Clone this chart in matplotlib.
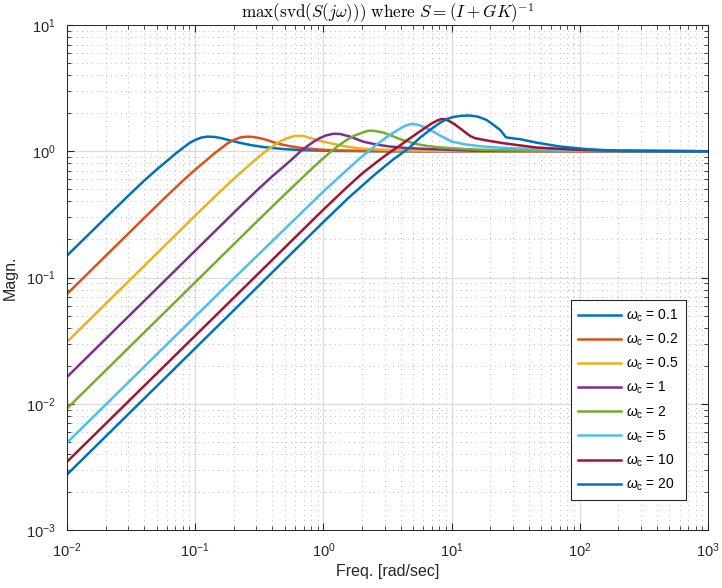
import matplotlib.pyplot as plt
import numpy as np

plt.rcParams['font.family'] = ['Liberation Sans', 'DejaVu Sans']
plt.rcParams['mathtext.fontset'] = 'custom'
plt.rcParams['mathtext.rm'] = 'Liberation Sans'
plt.rcParams['mathtext.it'] = 'Liberation Sans:italic'

# crossover frequencies, one curve each
wc_values = ['0.1', '0.2', '0.5', '1', '2', '5', '10', '20']

# matlab default line colours (wraps around for the 8th)
colors = ['#0072BD', '#D95319', '#EDB120', '#7E2F8E', '#77AC30',
          '#4DBEEE', '#A2142F', '#0072BD']

w_01 = [0.01, 0.02, 0.03, 0.04, 0.05, 0.06, 0.07, 0.08, 0.09, 0.1, 0.112, 0.124,
        0.14, 0.16, 0.18, 0.22, 0.27, 0.34, 0.49, 0.7, 1.2, 3, 1000]
s_01 = [0.149, 0.297, 0.443, 0.585, 0.715, 0.835, 0.955, 1.06, 1.16, 1.23, 1.285, 1.305,
        1.30, 1.27, 1.23, 1.17, 1.12, 1.08, 1.04, 1.02, 1.006, 1.0, 1.0]

w_02 = [0.01, 0.04, 0.06, 0.08, 0.1, 0.12, 0.14, 0.16, 0.18, 0.2, 0.225, 0.252,
        0.28, 0.32, 0.36, 0.44, 0.54, 0.68, 1.0, 1.4, 2.4, 6, 1000]
s_02 = [0.074, 0.296, 0.442, 0.583, 0.715, 0.835, 0.955, 1.06, 1.16, 1.23, 1.285, 1.305,
        1.30, 1.27, 1.23, 1.15, 1.10, 1.06, 1.026, 1.012, 1.004, 1.0, 1.0]

w_05 = [0.01, 0.1, 0.15, 0.2, 0.25, 0.3, 0.345, 0.4, 0.45, 0.5, 0.6, 0.7, 0.834,
        1.0, 1.13, 1.5, 2.05, 3.7, 8, 1000]
s_05 = [0.0309, 0.309, 0.46, 0.605, 0.74, 0.87, 0.98, 1.09, 1.18, 1.25, 1.325, 1.32,
        1.25, 1.19, 1.159, 1.09, 1.045, 1.02, 1.005, 1.0]

w_1 = [0.01, 0.2, 0.3, 0.4, 0.5, 0.58, 0.657, 0.75, 0.85, 0.95, 1.05, 1.195, 1.35,
       1.6, 2.05, 2.6, 3.3, 4.5, 6.8, 15, 1000]
s_1 = [0.0163, 0.326, 0.485, 0.635, 0.77, 0.88, 0.99, 1.1, 1.2, 1.28, 1.335, 1.375, 1.37,
       1.31, 1.19, 1.13, 1.09, 1.06, 1.04, 1.01, 1.0]

w_2 = [0.01, 0.3, 0.5, 0.7, 0.85, 1.0, 1.126, 1.3, 1.5, 1.75, 2.0, 2.24, 2.5, 2.9,
       3.4, 3.96, 4.6, 5.34, 6.5, 8, 9.8, 13, 18, 40, 1000]
s_2 = [0.00917, 0.275, 0.455, 0.63, 0.76, 0.88, 0.98, 1.1, 1.22, 1.33, 1.40, 1.455,
       1.45, 1.41, 1.33, 1.246, 1.19, 1.138, 1.10, 1.075, 1.058, 1.04, 1.026, 1.01, 1.0]

w_5 = [0.01, 0.2, 1.0, 1.5, 1.9, 2.3, 2.7, 3.1, 3.5, 4.0, 4.4, 4.85, 5.5, 6.2, 7.2,
       8.5, 10, 13, 17.7, 25, 43, 95, 1000]
s_5 = [0.00491, 0.0982, 0.48, 0.7, 0.87, 1.02, 1.16, 1.29, 1.40, 1.52, 1.6, 1.645,
       1.62, 1.54, 1.43, 1.30, 1.193, 1.13, 1.09, 1.065, 1.04, 1.01, 1.0]

w_10 = [0.01, 1.0, 1.5, 2.0, 2.6, 3.2, 3.9, 4.6, 5.4, 6.2, 7.0, 7.8, 8.4, 9.0, 9.72,
        10.6, 11.6, 12.7, 13.9, 15.2, 19, 25, 46, 79, 100, 200, 1000]
s_10 = [0.00347, 0.345, 0.51, 0.665, 0.82, 0.96, 1.1, 1.24, 1.39, 1.53, 1.66, 1.76,
        1.80, 1.79, 1.72, 1.63, 1.523, 1.42, 1.324, 1.27, 1.215, 1.16, 1.07, 1.039,
        1.026, 1.01, 1.0]

w_20 = [0.01, 1.0, 1.56, 2.5, 3.5, 4.59, 5.67, 6.8, 8.12, 9.2, 10.3, 12, 13.9, 16,
        18.7, 21, 23.9, 25.5, 26.5, 30, 34.2, 46, 70, 113, 205, 1000]
s_20 = [0.00275, 0.275, 0.425, 0.65, 0.86, 1.05, 1.28, 1.48, 1.68, 1.8, 1.87, 1.91,
        1.917, 1.88, 1.772, 1.63, 1.476, 1.36, 1.29, 1.265, 1.246, 1.17, 1.09, 1.04,
        1.005, 1.0]

freqs = [w_01, w_02, w_05, w_1, w_2, w_5, w_10, w_20]
sigmas = [s_01, s_02, s_05, s_1, s_2, s_5, s_10, s_20]

fig = plt.figure(figsize=(7.22, 5.88), dpi=100)
ax = fig.add_axes([0.0928, 0.0986, 0.8878, 0.8589])

for w, s, wc, c in zip(freqs, sigmas, wc_values, colors):
    ax.loglog(w, s, color=c, lw=1.8, label=r'$\omega_{\rm c}$ = ' + wc)

ax.set_xlim(1e-2, 1e3)
ax.set_ylim(1e-3, 1e1)

ax.grid(True, which='major', color='#dcdcdc', lw=0.9, ls='-')
ax.grid(True, which='minor', color='#bdbdbd', lw=0.7, ls=(0, (1, 4)))
ax.set_axisbelow(True)
ax.tick_params(which='both', direction='in', top=True, right=True, colors='#262626',
               labelsize=10.5)
ax.tick_params(which='major', length=5)
ax.tick_params(which='minor', length=3)
ax.tick_params(axis='x', which='major', pad=8)
ax.tick_params(axis='y', which='major', pad=8)
for sp in ax.spines.values():
    sp.set_color('#262626')
    sp.set_linewidth(0.7)

ax.set_xlabel('Freq. [rad/sec]', fontsize=11.5, color='#262626', labelpad=3)
ax.set_ylabel('Magn.', fontsize=11.5, color='#262626', labelpad=6)
ax.set_title(r'$\max(\mathrm{svd}(S(j\omega)))\ \mathrm{where}\ S=(I+GK)^{-1}$',
             fontsize=12.3, math_fontfamily='cm', pad=4)

leg = ax.legend(loc='lower right', bbox_to_anchor=(0.9657, 0.0594), fontsize=10,
                handlelength=3.1, handletextpad=0.4, labelspacing=0.56,
                borderpad=0.5, borderaxespad=0,
                fancybox=False, framealpha=1, edgecolor='#262626')
leg.get_frame().set_linewidth(0.8)

fig.savefig('out.png', dpi=100)
